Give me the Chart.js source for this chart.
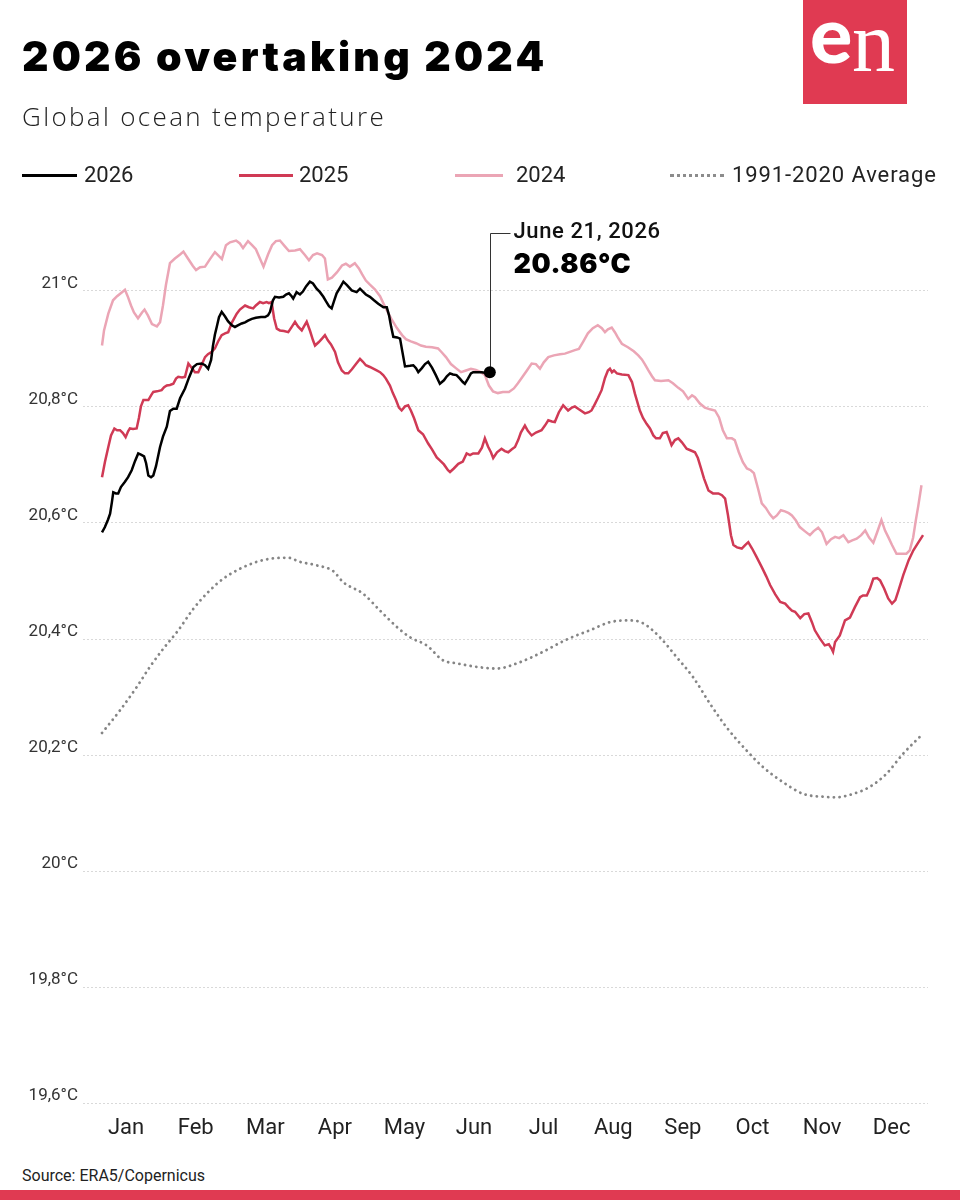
<!DOCTYPE html>
<html>
<head>
<meta charset="utf-8">
<script src="https://cdn.jsdelivr.net/npm/chart.js@4"></script>
<style>
  html, body { margin:0; padding:0; background:#fff; }
  body { width:960px; height:1200px; position:relative; overflow:hidden; font-family: Roboto, "Noto Sans", sans-serif; color:#1a1a1a; }
  .abs { position:absolute; white-space:nowrap; }
  #title { left:22px; top:36px; font-family: Inter, Lato, sans-serif; font-weight:900; font-size:41px; line-height:41px; color:#000; letter-spacing:3.2px; }
  #subtitle { left:22px; top:103px; font-family: "Open Sans", Roboto, sans-serif; font-weight:300; font-size:26px; line-height:26px; color:#222; letter-spacing:2.35px; }
  .leg { font-size:22px; line-height:22px; top:164px; color:#222; }
  .legline { position:absolute; top:174px; height:0; border-top-width:3px; border-top-style:solid; }
  #logo { left:803px; top:0; width:104px; height:104px; background:#e03a52; overflow:hidden; }
  #logoE { left:7px; top:-7px; font-family: Lato, sans-serif; font-weight:900; font-size:79px; line-height:79px; color:#fff; }
  #logoN { left:49px; top:-1px; font-family: "Liberation Serif", "DejaVu Serif", serif; font-weight:400; font-size:86px; line-height:86px; color:#fff; }
  #source { left:22px; top:1168px; font-size:16px; line-height:16px; color:#222; }
  #bar { left:0; top:1190px; width:960px; height:10px; background:#e03a52; }
  #chartWrap { left:0; top:0; width:960px; height:1160px; }
  #annDate { font-size:22px; line-height:22px; font-weight:500; color:#111; letter-spacing:0.6px; }
  #annVal { font-family: Inter, Lato, sans-serif; font-size:27px; line-height:27px; font-weight:900; color:#000; letter-spacing:0.6px; }
</style>
</head>
<body>
<div id="chartWrap" class="abs"><canvas id="c" width="960" height="1160"></canvas></div>

<div id="title" class="abs">2026 overtaking 2024</div>
<div id="subtitle" class="abs">Global ocean temperature</div>

<div class="legline" style="left:22px;width:55px;border-top-color:#000;"></div>
<div class="abs leg" style="left:84px;">2026</div>
<div class="legline" style="left:239px;width:54px;border-top-color:#d03a55;"></div>
<div class="abs leg" style="left:299px;">2025</div>
<div class="legline" style="left:455px;width:48px;border-top-color:#eba5b5;"></div>
<div class="abs leg" style="left:516px;">2024</div>
<div class="legline" style="left:670px;width:54px;border-top-color:#8c8c8c;border-top-style:dotted;"></div>
<div class="abs leg" style="left:732px;letter-spacing:0.9px;">1991-2020 Average</div>

<div id="logo" class="abs"><div id="logoE" class="abs">e</div><div id="logoN" class="abs">n</div></div>

<div id="annDate" class="abs"></div>
<div id="annVal" class="abs"></div>

<div id="source" class="abs">Source: ERA5/Copernicus</div>
<div id="bar" class="abs"></div>

<script>
// ---------- DATA (day of year, °C) ----------
const months = ['Jan','Feb','Mar','Apr','May','Jun','Jul','Aug','Sep','Oct','Nov','Dec'];
const yTickValues = [19.6, 19.8, 20.0, 20.2, 20.4, 20.6, 20.8, 21.0];
const lastDateLabel = 'June 21, 2026';

const days2026 = [0,1.3,2.7,3.6,4.4,5.0,6.2,7.2,8.4,10.2,11.6,13.2,14.7,16.1,17.3,18.7,19.6,20.6,21.8,22.8,24.0,25.8,27.1,28.8,30.2,31.7,33.2,34.7,36.9,38.7,40.6,42.2,44.3,45.8,47.2,48.5,49.3,50.2,51.0,52.0,53.2,54.7,56.0,57.7,59.1,60.6,62.1,63.6,64.9,66.6,68.4,70.7,72.5,73.8,74.7,76.0,76.9,78.7,80.6,81.8,83.1,84.3,85.0,86.5,88.0,89.3,90.7,92.4,93.8,95.4,96.9,98.4,99.6,100.9,102.1,103.1,104.3,105.8,107.3,108.9,111.0,113.2,114.7,116.0,117.3,119.1,120.9,122.8,125.1,126.6,127.6,128.5,129.5,131.2,132.5,133.4,134.7,136.9,138.4,139.6,140.6,142.2,143.6,145.0,146.7,148.4,150.2,152.0,153.3,154.7,156.0,157.6,159.1,160.4,161.3,162.7,164.0,165.0,166.7,168.8,170.2,171.6,172.4];
const temps2026 = [20.584,20.593,20.606,20.616,20.636,20.653,20.651,20.651,20.662,20.671,20.679,20.691,20.707,20.720,20.718,20.715,20.703,20.682,20.679,20.682,20.698,20.731,20.749,20.766,20.793,20.797,20.797,20.815,20.832,20.851,20.869,20.874,20.875,20.872,20.866,20.881,20.905,20.925,20.938,20.955,20.964,20.956,20.948,20.941,20.938,20.941,20.944,20.946,20.949,20.952,20.954,20.955,20.955,20.958,20.964,20.984,20.990,20.989,20.990,20.994,20.996,20.991,20.987,20.998,20.994,20.999,21.008,21.016,21.013,21.004,20.998,20.990,20.982,20.974,20.970,20.982,20.996,21.006,21.016,21.010,21.001,20.998,21.004,20.999,20.994,20.990,20.984,20.978,20.972,20.972,20.958,20.939,20.921,20.920,20.918,20.898,20.870,20.871,20.872,20.867,20.860,20.867,20.874,20.878,20.868,20.855,20.840,20.846,20.853,20.858,20.856,20.855,20.849,20.843,20.840,20.849,20.858,20.860,20.860,20.860,20.859,20.856,20.86];

const days2025 = [0,1.3,2.8,4.0,5.5,6.7,8.0,9.3,10.5,11.6,12.4,13.8,15.4,16.4,17.3,18.4,20.6,21.8,22.8,24.4,26.5,27.6,28.8,30.2,31.7,32.9,33.9,35.6,36.9,38.4,40.0,41.3,42.8,44.0,45.8,47.1,48.8,50.2,51.6,53.2,54.7,56.1,57.8,59.9,61.3,63.6,65.3,67.2,68.4,70.2,71.6,73.2,74.2,75.4,76.5,77.7,79.1,80.9,82.8,84.5,85.8,87.1,88.8,89.8,91.0,92.5,93.8,94.7,96.4,97.8,99.1,100.4,101.8,103.6,104.9,106.6,108.0,109.5,111.1,112.9,114.7,116.0,117.3,119.1,120.6,122.1,123.6,125.0,126.2,128.0,129.3,130.7,132.0,133.2,134.7,136.1,137.3,138.7,140.6,142.7,145.0,146.7,148.8,150.2,152.0,153.8,154.7,156.4,158.4,160.4,162.1,163.6,165.0,167.3,168.9,170.2,171.6,172.9,173.9,175.6,177.6,179.1,180.6,182.2,183.6,185.0,186.2,188.0,189.3,191.0,192.9,195.4,196.9,198.4,200.0,201.3,203.1,205.0,206.2,207.2,208.9,210.2,212.0,214.7,216.4,217.6,219.1,220.4,222.1,223.6,224.9,225.8,226.7,227.6,228.9,231.1,234.0,235.6,236.9,239.1,240.5,242.1,243.6,245.1,246.3,248.0,249.3,251.0,252.0,253.2,254.7,256.2,257.8,259.9,261.8,263.6,264.9,266.3,267.6,269.6,271.6,274.0,275.6,277.0,278.3,279.6,280.7,282.3,284.4,285.9,287.3,289.0,290.8,293.3,295.3,297.0,299.3,301.5,303.7,305.1,306.7,308.1,310.4,312.2,314.0,315.6,316.9,319.1,321.3,323.1,324.4,325.0,325.9,328.0,330.3,332.5,334.7,337.0,338.3,340.0,341.4,342.9,344.6,345.9,347.7,349.5,351.2,352.7,354.1,356.2,358.6,360.7,363.0,365.0];
const temps2025 = [20.679,20.705,20.731,20.751,20.763,20.760,20.760,20.755,20.748,20.758,20.763,20.762,20.763,20.781,20.801,20.812,20.812,20.820,20.826,20.827,20.829,20.834,20.837,20.838,20.840,20.849,20.852,20.851,20.852,20.875,20.867,20.860,20.860,20.870,20.886,20.891,20.895,20.901,20.913,20.924,20.927,20.929,20.946,20.961,20.968,20.975,20.972,20.970,20.975,20.981,20.979,20.981,20.979,20.981,20.953,20.935,20.932,20.931,20.929,20.939,20.947,20.939,20.932,20.939,20.947,20.931,20.915,20.906,20.912,20.918,20.924,20.915,20.908,20.895,20.877,20.863,20.858,20.858,20.865,20.874,20.883,20.878,20.872,20.869,20.866,20.863,20.860,20.855,20.849,20.837,20.824,20.812,20.799,20.794,20.801,20.803,20.794,20.781,20.760,20.753,20.737,20.727,20.713,20.708,20.701,20.691,20.688,20.694,20.702,20.706,20.720,20.717,20.720,20.720,20.730,20.746,20.732,20.722,20.712,20.722,20.728,20.724,20.722,20.727,20.731,20.743,20.756,20.768,20.759,20.751,20.756,20.760,20.768,20.777,20.775,20.774,20.791,20.803,20.798,20.794,20.799,20.801,20.796,20.789,20.791,20.794,20.805,20.815,20.829,20.850,20.863,20.866,20.860,20.863,20.858,20.856,20.855,20.843,20.823,20.794,20.781,20.771,20.763,20.751,20.746,20.746,20.755,20.757,20.747,20.734,20.743,20.746,20.739,20.728,20.725,20.722,20.712,20.694,20.677,20.656,20.651,20.651,20.648,20.642,20.613,20.579,20.562,20.558,20.556,20.562,20.567,20.556,20.543,20.524,20.508,20.493,20.477,20.464,20.461,20.455,20.449,20.447,20.436,20.443,20.444,20.429,20.415,20.401,20.389,20.391,20.383,20.378,20.395,20.406,20.432,20.437,20.455,20.472,20.475,20.475,20.487,20.504,20.505,20.501,20.487,20.470,20.461,20.467,20.484,20.510,20.536,20.553,20.567,20.579];

const days2024 = [0,0.9,2.8,4.9,6.7,8.9,10.2,11.6,12.9,14.2,16.0,17.8,18.9,20.4,22.2,24.4,25.8,27.1,28.4,30.2,32.4,34.7,36.2,38.2,40.4,41.8,43.6,45.8,48.0,50.2,52.0,53.3,55.1,56.9,59.6,61.3,62.7,64.9,66.7,68.4,70.2,71.8,73.8,75.6,77.3,79.1,81.3,83.1,85.8,88.0,90.2,92.0,93.8,95.6,97.8,99.1,100.4,102.2,104.4,106.7,108.4,110.2,112.4,114.2,115.6,117.3,119.1,121.3,123.6,125.3,127.1,128.9,131.1,133.4,135.1,137.3,139.6,141.8,144.0,146.7,149.4,151.1,152.9,155.1,157.3,159.6,161.8,164.0,166.2,168.4,170.2,172.0,173.8,176.0,178.2,180.9,183.1,184.9,187.1,188.9,191.0,192.9,194.7,196.4,198.4,200.9,203.6,205.8,208.0,210.2,212.0,213.8,216.0,218.2,220.4,222.2,223.6,224.9,226.6,228.0,229.3,231.1,233.8,236.4,238.4,240.0,241.3,242.9,244.5,245.8,248.5,251.8,253.8,256.2,258.3,260.6,262.3,263.6,265.8,268.0,270.3,272.5,274.3,276.0,277.8,280.0,281.3,283.1,284.9,286.7,288.4,289.8,291.6,293.3,295.1,296.9,298.4,300.0,301.8,303.6,305.3,306.7,308.4,310.2,312.4,314.7,316.4,318.4,320.1,322.1,324.1,325.9,327.7,329.6,331.8,333.5,335.5,337.5,339.3,341.0,342.9,344.6,346.5,348.1,349.5,351.2,353.2,355.1,357.6,359.1,360.6,361.8,362.9,364.3];
const temps2024 = [20.906,20.932,20.961,20.984,20.991,20.998,21.002,20.989,20.975,20.963,20.953,20.963,20.968,20.958,20.943,20.939,20.946,20.975,21.010,21.048,21.056,21.063,21.068,21.056,21.043,21.036,21.041,21.042,21.055,21.067,21.060,21.055,21.079,21.084,21.087,21.082,21.074,21.086,21.079,21.072,21.056,21.042,21.063,21.079,21.086,21.087,21.077,21.069,21.070,21.072,21.062,21.053,21.062,21.065,21.062,21.056,21.020,21.023,21.032,21.044,21.047,21.042,21.048,21.039,21.029,21.018,21.011,21.003,20.991,20.977,20.963,20.950,20.936,20.924,20.917,20.913,20.910,20.906,20.904,20.903,20.901,20.894,20.886,20.874,20.867,20.860,20.863,20.866,20.864,20.860,20.855,20.837,20.827,20.824,20.826,20.826,20.832,20.841,20.853,20.863,20.875,20.874,20.866,20.877,20.886,20.889,20.891,20.892,20.895,20.898,20.900,20.912,20.927,20.936,20.941,20.936,20.929,20.934,20.937,20.929,20.920,20.909,20.903,20.896,20.889,20.882,20.874,20.863,20.853,20.846,20.845,20.846,20.841,20.833,20.827,20.814,20.820,20.817,20.806,20.799,20.796,20.794,20.782,20.760,20.746,20.746,20.743,20.722,20.705,20.694,20.691,20.686,20.660,20.634,20.626,20.615,20.608,20.613,20.622,20.620,20.617,20.613,20.605,20.593,20.586,20.579,20.586,20.592,20.584,20.564,20.572,20.576,20.574,20.579,20.567,20.570,20.573,20.579,20.587,20.575,20.566,20.584,20.605,20.587,20.576,20.562,20.547,20.547,20.547,20.553,20.575,20.605,20.630,20.665];

const daysAvg = [0,8.0,15.4,21.3,27.2,33.9,40.6,47.2,53.9,61.3,68.8,76.1,82.8,88.0,95.4,102.8,107.2,116.1,123.6,131.0,136.9,144.3,151.7,157.6,166.5,175.4,185.8,196.1,206.5,216.9,225.8,234.7,240.6,248.0,255.4,262.8,270.2,277.6,286.5,293.9,302.8,311.7,320.6,326.5,333.9,341.3,348.8,356.1,365.0];
const tempsAvg = [20.238,20.277,20.317,20.352,20.383,20.415,20.452,20.481,20.504,20.521,20.533,20.539,20.540,20.533,20.527,20.517,20.498,20.478,20.449,20.421,20.403,20.389,20.363,20.358,20.352,20.349,20.360,20.378,20.399,20.415,20.429,20.432,20.427,20.403,20.369,20.334,20.289,20.248,20.208,20.179,20.153,20.133,20.128,20.127,20.133,20.145,20.168,20.202,20.237];

// ---------- BUILD ----------
const toPts = (xs, ys) => xs.map((x, i) => ({ x: x, y: ys[i] }));
const monthTickDays = months.map((m, i) => 10.7 + i * 30.94);
const fmtTemp = v => { const r = Math.round(v * 10) / 10; return (Number.isInteger(r) ? String(r) : r.toFixed(1).replace('.', ',')) + '°C'; };

const last2026 = temps2026.length - 1;

const leaderPlugin = {
  id: 'leader',
  beforeDatasetsDraw(chart) {
    const meta = chart.getDatasetMeta(0);
    const pt = meta.data[meta.data.length - 1];
    const yTop = Math.round(chart.scales.y.getPixelForValue(21.1)) + 0.5;
    const px = Math.round(pt.x) + 0.5;
    const ctx = chart.ctx;
    ctx.save();
    ctx.strokeStyle = '#333';
    ctx.lineWidth = 1;
    ctx.beginPath();
    ctx.moveTo(px, pt.y);
    ctx.lineTo(px, yTop);
    ctx.lineTo(px + 20, yTop);
    ctx.stroke();
    ctx.restore();
    const d = document.getElementById('annDate');
    d.textContent = lastDateLabel;
    d.style.left = (px + 23) + 'px';
    d.style.top = (yTop + 4.6 - 18.5) + 'px';
    const v = document.getElementById('annVal');
    v.textContent = temps2026[last2026].toFixed(2) + '°C';
    v.style.left = (px + 23) + 'px';
    v.style.top = (yTop + 40 - 23.3) + 'px';
  }
};

new Chart(document.getElementById('c'), {
  type: 'line',
  data: {
    datasets: [
      { label: '2026', data: toPts(days2026, temps2026), borderColor: '#000', borderWidth: 2.5, tension: 0,
        pointRadius: ctx => ctx.dataIndex === last2026 ? 6 : 0, pointBackgroundColor: '#000', pointBorderWidth: 0, order: 0 },
      { label: '2025', data: toPts(days2025, temps2025), borderColor: '#d03a55', borderWidth: 2.5, tension: 0, pointRadius: 0, order: 1 },
      { label: '2024', data: toPts(days2024, temps2024), borderColor: '#eba5b5', borderWidth: 2.5, tension: 0, pointRadius: 0, order: 2 },
      { label: '1991-2020 Average', data: toPts(daysAvg, tempsAvg), borderColor: '#858585', borderWidth: 2.8, tension: 0.4,
        cubicInterpolationMode: 'monotone', borderDash: [0.1, 5.6], borderCapStyle: 'round', pointRadius: 0, order: 3 }
    ]
  },
  options: {
    responsive: false,
    devicePixelRatio: 1,
    animation: false,
    events: [],
    layout: { padding: { top: 175, bottom: 17, left: 0, right: 32 } },
    plugins: { legend: { display: false }, tooltip: { enabled: false } },
    scales: {
      x: {
        type: 'linear', min: -8.45, max: 367.2,
        afterBuildTicks: s => { s.ticks = monthTickDays.map(v => ({ value: v })); },
        afterFit: s => { s.height = 40; },
        grid: { display: false, drawTicks: false },
        border: { display: false },
        ticks: { autoSkip: false, maxRotation: 0, padding: 12, color: '#222',
          font: { family: 'Roboto', size: 22 }, callback: (v, i) => months[i] }
      },
      y: {
        min: 19.6, max: 21.2,
        afterBuildTicks: s => { s.ticks = yTickValues.map(v => ({ value: v })); },
        afterFit: s => { s.width = 83; },
        grid: { color: '#d9d9d9', lineWidth: 1, drawTicks: false },
        border: { display: false, dash: [2, 2] },
        ticks: { padding: 5, labelOffset: -7, color: '#333', font: { family: 'Roboto', size: 17 }, callback: v => fmtTemp(v) }
      }
    }
  },
  plugins: [leaderPlugin]
});
</script>
</body>
</html>
